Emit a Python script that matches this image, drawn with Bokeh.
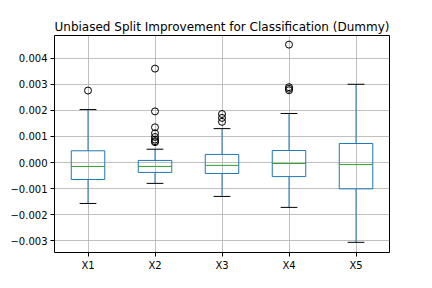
from bokeh.plotting import figure
from bokeh.models import Range1d, FixedTicker, CustomJSTickFormatter, ColumnDataSource
from bokeh.embed import file_html
from bokeh.resources import INLINE

categories = ["X1", "X2", "X3", "X4", "X5"]
positions = [1, 2, 3, 4, 5]
q1 = [-0.00065, -0.00038, -0.00042, -0.00054, -0.00101]
median = [-0.00015, -0.00015, -0.00011, -0.00004, -0.00008]
q3 = [0.00045, 0.00008, 0.00031, 0.00046, 0.00073]
whisker_low = [-0.00157, -0.00080, -0.00130, -0.00172, -0.00306]
whisker_high = [0.00203, 0.00051, 0.00130, 0.00188, 0.00300]
outliers = [
    [0.00276],
    [0.00360, 0.00196, 0.00135, 0.00112, 0.00098, 0.00088, 0.00082, 0.00078],
    [0.00186, 0.00171, 0.00156],
    [0.00452, 0.00289, 0.00283, 0.00277],
    [],
]
y_ticks = [-0.003, -0.002, -0.001, 0.0, 0.001, 0.002, 0.003, 0.004]

FONT = "DejaVu Sans"
BLUE = "#1f77b4"
GREEN = "#2ca02c"

p = figure(frame_width=335, frame_height=217, output_backend="svg", toolbar_location=None,
           x_range=Range1d(0.5, 5.5), y_range=Range1d(-0.00345, 0.00487),
           min_border_left=54, min_border_right=27, min_border_top=35, min_border_bottom=0)

p.title.text = "Unbiased Split Improvement for Classification (Dummy)"
p.title.text_font = FONT
p.title.text_font_size = "12px"
p.title.text_font_style = "normal"
p.title.align = "center"
p.title.text_color = "black"
p.title.standoff = 4

p.outline_line_color = "black"
p.outline_line_width = 1
p.outline_line_alpha = 1.0

for ax in (p.xaxis, p.yaxis):
    ax.axis_line_color = None
    ax.major_tick_in = 0
    ax.major_tick_out = 4
    ax.minor_tick_line_color = None
    ax.major_tick_line_color = "black"
    ax.major_label_text_font = FONT
    ax.major_label_text_font_size = "10px"
    ax.major_label_text_color = "black"
    ax.major_label_standoff = 3

p.xaxis.ticker = FixedTicker(ticks=positions)
p.xaxis.major_label_overrides = {pos: c for pos, c in zip(positions, categories)}
p.yaxis.ticker = FixedTicker(ticks=y_ticks)
p.yaxis.formatter = CustomJSTickFormatter(code="""
    var s = Math.abs(tick).toFixed(3);
    return (tick < -1e-12 ? "\u2212" : "") + s;
""")

p.grid.grid_line_color = "#b0b0b0"
p.grid.grid_line_width = 0.8
p.background_fill_color = "white"

src = ColumnDataSource(dict(
    x=positions, q1=q1, med=median, q3=q3, lo=whisker_low, hi=whisker_high,
    left=[x - 0.25 for x in positions], right=[x + 0.25 for x in positions],
    cl=[x - 0.125 for x in positions], cr=[x + 0.125 for x in positions],
))

p.segment(x0="x", y0="q3", x1="x", y1="hi", source=src, line_color=BLUE, line_width=1)
p.segment(x0="x", y0="q1", x1="x", y1="lo", source=src, line_color=BLUE, line_width=1)
p.quad(left="left", right="right", bottom="q1", top="q3", source=src,
       fill_color=None, line_color=BLUE, line_width=1)
p.segment(x0="left", y0="med", x1="right", y1="med", source=src, line_color=GREEN, line_width=1)
p.segment(x0="cl", y0="hi", x1="cr", y1="hi", source=src, line_color="black", line_width=1)
p.segment(x0="cl", y0="lo", x1="cr", y1="lo", source=src, line_color="black", line_width=1)

ox, oy = [], []
for pos, vals in zip(positions, outliers):
    for v in vals:
        ox.append(pos)
        oy.append(v)
p.scatter(ox, oy, marker="circle", size=7, fill_color=None, line_color="black", line_width=1)

open("out.html", "w").write(file_html(p, INLINE))
